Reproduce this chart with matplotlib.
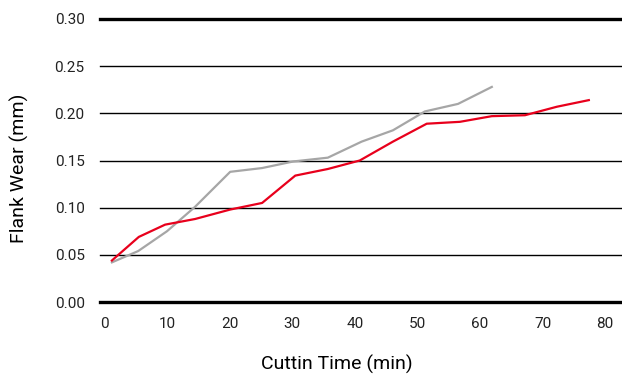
import numpy as np
import matplotlib.pyplot as plt
import matplotlib as mpl

mpl.rcParams.update({
    "font.family": ["Roboto", "DejaVu Sans"],
    "font.size": 11,
})

# data
red_time = [1.2, 5.5, 9.7, 14.5, 20.1, 25.2, 30.5, 35.7, 40.8, 46.1, 51.5, 56.8, 61.9, 67.2, 72.3, 77.4]
red_wear = [0.044, 0.069, 0.082, 0.088, 0.098, 0.105, 0.134, 0.141, 0.150, 0.170, 0.189, 0.191, 0.197, 0.198, 0.207, 0.214]

gray_time = [1.2, 5.4, 10.0, 14.5, 20.1, 25.2, 30.2, 35.7, 41.1, 46.1, 51.2, 56.5, 61.9]
gray_wear = [0.042, 0.054, 0.075, 0.101, 0.138, 0.142, 0.149, 0.153, 0.170, 0.182, 0.202, 0.210, 0.228]

yticks = [0.00, 0.05, 0.10, 0.15, 0.20, 0.25, 0.30]
xticks = [0, 10, 20, 30, 40, 50, 60, 70, 80]

fig = plt.figure(figsize=(6.22, 3.74), dpi=100)
ax = fig.add_axes([100 / 622, 1 - 302 / 374, 522 / 622, 283 / 374])

# horizontal rules
for y in yticks:
    lw = 2.4 if y in (0.0, 0.30) else 1.0
    ax.axhline(y, color="black", lw=lw, zorder=1, clip_on=False)

ax.plot(gray_time, gray_wear, color="#a6a6a6", lw=1.6, zorder=3)
ax.plot(red_time, red_wear, color="#e8001c", lw=1.6, zorder=4)

ax.set_xlim(-0.7, 82.7)
ax.set_ylim(0, 0.30)
ax.set_xticks(xticks)
ax.set_yticks(yticks)
ax.set_yticklabels([f"{v:.2f}" for v in yticks])
ax.tick_params(length=0, colors="#222222")
ax.tick_params(axis="y", pad=11)
ax.tick_params(axis="x", pad=11)
for s in ax.spines.values():
    s.set_visible(False)

ax.set_xlabel("Cuttin Time (min)", fontsize=14)
ax.set_ylabel("Flank Wear (mm)", fontsize=14)
ax.xaxis.set_label_coords(237 / 522, -53 / 283)
ax.yaxis.set_label_coords(-71 / 522, 134 / 283)

fig.savefig("out.png", dpi=100)
